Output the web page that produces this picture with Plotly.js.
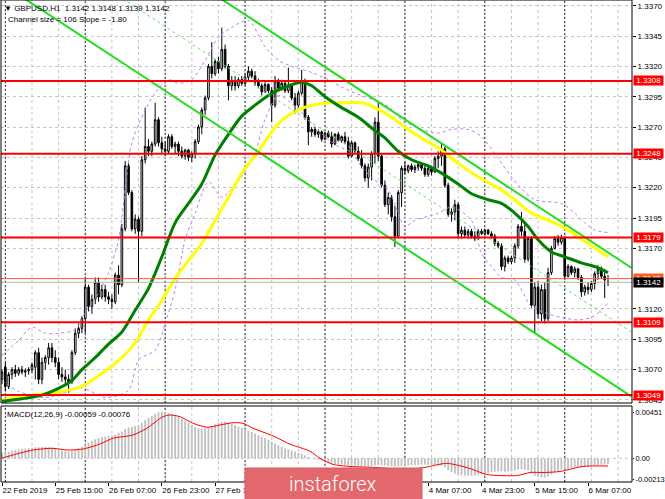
<!DOCTYPE html>
<html><head><meta charset="utf-8">
<script src="https://cdn.plot.ly/plotly-3.0.1.min.js"></script>
<style>html,body{margin:0;padding:0;background:#fff;overflow:hidden}#chart{width:665px;height:499px}</style>
</head><body><div id="chart"></div>
<script>
// ---------- DATA ----------
const headerText = "\u25BC GBPUSD,H1  1.3142 1.3148 1.3139 1.3142";
const channelText = "Channel size = 106 Slope = -1.80";
const macdText = "MACD(12,26,9) -0.00059 -0.00076";
const logoText = "instaforex";

const open = [1.3062,1.3072,1.3056,1.3066,1.3070,1.3067,1.3070,1.3068,1.3069,1.3070,
1.3072,1.3084,1.3062,1.3076,1.3080,1.3088,1.3080,1.3076,1.3066,1.3064,
1.3062,1.3060,1.3084,1.3100,1.3104,1.3112,1.3138,1.3122,1.3128,1.3142,
1.3130,1.3136,1.3130,1.3128,1.3126,1.3148,1.3140,1.3186,1.3238,1.3216,
1.3186,1.3194,1.3184,1.3243,1.3254,1.3250,1.3256,1.3276,1.3257,1.3252,
1.3250,1.3262,1.3254,1.3256,1.3250,1.3246,1.3251,1.3245,1.3248,1.3258,
1.3270,1.3284,1.3294,1.3320,1.3314,1.3324,1.3318,1.3334,1.3320,1.3304,
1.3308,1.3304,1.3309,1.3306,1.3311,1.3316,1.3312,1.3307,1.3304,1.3299,
1.3305,1.3300,1.3288,1.3308,1.3302,1.3306,1.3300,1.3304,1.3294,1.3288,
1.3298,1.3308,1.3278,1.3266,1.3268,1.3264,1.3266,1.3260,1.3265,1.3262,
1.3256,1.3264,1.3259,1.3262,1.3258,1.3246,1.3257,1.3250,1.3244,1.3238,
1.3228,1.3237,1.3248,1.3274,1.3246,1.3222,1.3206,1.3212,1.3196,1.3180,
1.3216,1.3236,1.3234,1.3238,1.3235,1.3237,1.3239,1.3236,1.3231,1.3236,
1.3233,1.3244,1.3246,1.3252,1.3222,1.3198,1.3200,1.3206,1.3182,1.3185,
1.3181,1.3184,1.3180,1.3178,1.3184,1.3182,1.3185,1.3182,1.3180,1.3174,
1.3172,1.3155,1.3162,1.3159,1.3162,1.3172,1.3188,1.3184,1.3161,1.3178,
1.3123,1.3138,1.3116,1.3136,1.3112,1.3150,1.3170,1.3178,1.3175,1.3179,
1.3147,1.3155,1.3150,1.3153,1.3146,1.3134,1.3138,1.3136,1.3141,1.3149,
1.3153,1.3147,1.3142];
const high = [1.3070,1.3076,1.3068,1.3072,1.3074,1.3072,1.3073,1.3071,1.3072,1.3076,
1.3086,1.3088,1.3080,1.3082,1.3092,1.3092,1.3086,1.3080,1.3072,1.3070,
1.3066,1.3086,1.3104,1.3108,1.3114,1.3146,1.3140,1.3132,1.3146,1.3146,
1.3140,1.3140,1.3134,1.3132,1.3150,1.3156,1.3190,1.3242,1.3240,1.3218,
1.3198,1.3196,1.3246,1.3286,1.3260,1.3258,1.3290,1.3278,1.3262,1.3258,
1.3264,1.3264,1.3258,1.3258,1.3254,1.3252,1.3252,1.3250,1.3260,1.3272,
1.3286,1.3296,1.3322,1.3340,1.3326,1.3328,1.3352,1.3338,1.3322,1.3312,
1.3312,1.3311,1.3312,1.3314,1.3320,1.3318,1.3316,1.3310,1.3306,1.3307,
1.3306,1.3303,1.3312,1.3310,1.3309,1.3308,1.3319,1.3305,1.3298,1.3300,
1.3317,1.3310,1.3280,1.3270,1.3270,1.3268,1.3267,1.3266,1.3267,1.3266,
1.3265,1.3266,1.3263,1.3266,1.3262,1.3259,1.3258,1.3254,1.3251,1.3240,
1.3240,1.3250,1.3278,1.3290,1.3248,1.3226,1.3216,1.3214,1.3205,1.3218,
1.3238,1.3241,1.3239,1.3240,1.3239,1.3241,1.3241,1.3240,1.3238,1.3238,
1.3246,1.3250,1.3257,1.3254,1.3224,1.3203,1.3210,1.3208,1.3188,1.3188,
1.3186,1.3186,1.3184,1.3186,1.3186,1.3186,1.3186,1.3184,1.3182,1.3176,
1.3174,1.3164,1.3164,1.3164,1.3174,1.3190,1.3200,1.3190,1.3180,1.3180,
1.3142,1.3143,1.3140,1.3142,1.3154,1.3172,1.3180,1.3181,1.3181,1.3180,
1.3157,1.3156,1.3155,1.3154,1.3148,1.3140,1.3142,1.3143,1.3151,1.3156,
1.3155,1.3153,1.3148];
const low = [1.3058,1.3052,1.3054,1.3062,1.3064,1.3065,1.3066,1.3064,1.3066,1.3067,
1.3062,1.3058,1.3058,1.3070,1.3074,1.3076,1.3072,1.3062,1.3060,1.3058,
1.3051,1.3058,1.3082,1.3096,1.3100,1.3100,1.3118,1.3116,1.3124,1.3126,
1.3128,1.3126,1.3124,1.3120,1.3124,1.3132,1.3138,1.3184,1.3214,1.3184,
1.3182,1.3142,1.3180,1.3240,1.3246,1.3246,1.3254,1.3254,1.3248,1.3246,
1.3248,1.3252,1.3248,1.3246,1.3244,1.3243,1.3242,1.3241,1.3244,1.3256,
1.3264,1.3280,1.3292,1.3310,1.3312,1.3314,1.3316,1.3318,1.3292,1.3300,
1.3300,1.3302,1.3304,1.3304,1.3308,1.3310,1.3304,1.3302,1.3296,1.3298,
1.3298,1.3274,1.3286,1.3300,1.3300,1.3298,1.3298,1.3292,1.3281,1.3286,
1.3296,1.3276,1.3255,1.3262,1.3262,1.3261,1.3258,1.3259,1.3261,1.3253,
1.3255,1.3258,1.3257,1.3256,1.3244,1.3245,1.3248,1.3242,1.3236,1.3225,
1.3220,1.3226,1.3240,1.3242,1.3220,1.3204,1.3198,1.3192,1.3171,1.3178,
1.3204,1.3231,1.3232,1.3233,1.3232,1.3234,1.3234,1.3229,1.3229,1.3230,
1.3232,1.3236,1.3238,1.3220,1.3196,1.3192,1.3193,1.3178,1.3178,1.3179,
1.3178,1.3178,1.3176,1.3177,1.3181,1.3180,1.3181,1.3178,1.3172,1.3170,
1.3152,1.3151,1.3157,1.3157,1.3158,1.3170,1.3180,1.3158,1.3159,1.3121,
1.3100,1.3112,1.3110,1.3108,1.3110,1.3148,1.3169,1.3172,1.3173,1.3144,
1.3146,1.3148,1.3146,1.3144,1.3130,1.3131,1.3132,1.3134,1.3136,1.3144,
1.3145,1.3129,1.3139];
const close = [1.3068,1.3056,1.3066,1.3070,1.3067,1.3070,1.3068,1.3069,1.3070,1.3074,
1.3084,1.3062,1.3076,1.3080,1.3088,1.3080,1.3076,1.3066,1.3064,1.3062,
1.3060,1.3084,1.3100,1.3104,1.3112,1.3138,1.3122,1.3128,1.3142,1.3130,
1.3136,1.3130,1.3128,1.3126,1.3148,1.3140,1.3186,1.3238,1.3216,1.3186,
1.3194,1.3184,1.3243,1.3254,1.3250,1.3256,1.3276,1.3257,1.3252,1.3250,
1.3262,1.3254,1.3256,1.3250,1.3246,1.3251,1.3245,1.3248,1.3258,1.3270,
1.3284,1.3294,1.3320,1.3314,1.3324,1.3318,1.3334,1.3320,1.3304,1.3308,
1.3304,1.3309,1.3306,1.3311,1.3316,1.3312,1.3307,1.3304,1.3299,1.3305,
1.3300,1.3288,1.3308,1.3302,1.3306,1.3300,1.3304,1.3294,1.3288,1.3298,
1.3308,1.3278,1.3266,1.3268,1.3264,1.3266,1.3260,1.3265,1.3262,1.3256,
1.3264,1.3259,1.3262,1.3258,1.3246,1.3257,1.3250,1.3244,1.3238,1.3228,
1.3237,1.3248,1.3274,1.3246,1.3222,1.3206,1.3212,1.3196,1.3180,1.3216,
1.3236,1.3234,1.3238,1.3235,1.3237,1.3239,1.3236,1.3231,1.3236,1.3233,
1.3244,1.3246,1.3252,1.3222,1.3198,1.3200,1.3206,1.3182,1.3185,1.3181,
1.3184,1.3180,1.3178,1.3184,1.3182,1.3185,1.3182,1.3180,1.3174,1.3172,
1.3155,1.3162,1.3159,1.3162,1.3172,1.3188,1.3184,1.3161,1.3178,1.3123,
1.3138,1.3116,1.3136,1.3112,1.3150,1.3170,1.3178,1.3175,1.3179,1.3147,
1.3155,1.3150,1.3153,1.3146,1.3134,1.3138,1.3136,1.3141,1.3149,1.3153,
1.3147,1.3144,1.3142];

// moving averages (sampled at bars)
const maGreenBars = [0,6,12,18,21,24,28,32,36,40,44,48,52,56,60,64,68,72,76,80,85,90,93,97,102,107,112,115,119,123,128,132,137,141,146,150,154,158,161,165,169,174,178,182];
const maGreen = [1.3044,1.3046,1.3049,1.3056,1.3061,1.3070,1.3080,1.3091,1.3101,1.3119,1.3137,1.3163,1.3191,1.3207,1.3223,1.3247,1.3264,1.3279,1.3288,1.3296,1.3303,1.3307,1.3304,1.3295,1.3286,1.3278,1.3267,1.3261,1.3250,1.3243,1.3238,1.3232,1.3223,1.3215,1.3210,1.3207,1.3199,1.3188,1.3177,1.3167,1.3163,1.3158,1.3155,1.3150];
const maYellowBars = [0,9,18,24,28,34,40,44,48,52,56,60,64,68,72,77,83,89,93,99,103,108,112,117,122,126,132,137,143,150,154,159,166,170,176,182];
const maYellow = [1.3045,1.3049,1.3052,1.3056,1.3063,1.3075,1.3092,1.3111,1.3127,1.3145,1.3160,1.3174,1.3193,1.3212,1.3232,1.3250,1.3273,1.3284,1.3288,1.3290,1.3290,1.3290,1.3286,1.3278,1.3268,1.3261,1.3251,1.3240,1.3229,1.3218,1.3210,1.3199,1.3191,1.3185,1.3174,1.3163];
const bandUpperBars = [0,5,9,13,17,22,25,29,32,35,39,43,46,50,53,57,61,65,69,74,79,83,87,93,98,102,106,112,116,120,126,131,135,140,144,149,155,160,168,172,175,178,182];
const bandUpper = [1.3082,1.3094,1.3105,1.3100,1.3100,1.3103,1.3117,1.3133,1.3150,1.3177,1.3257,1.3284,1.3298,1.3309,1.3306,1.3309,1.3325,1.3344,1.3352,1.3358,1.3336,1.3325,1.3320,1.3315,1.3309,1.3303,1.3298,1.3292,1.3287,1.3276,1.3268,1.3265,1.3268,1.3268,1.3262,1.3244,1.3222,1.3210,1.3207,1.3199,1.3191,1.3185,1.3183];
const bandLowerBars = [0,5,13,20,24,31,38,41,46,49,52,55,58,62,66,68,72,76,79,83,88,93,97,101,105,108,112,116,119,121,124,131,135,141,144,147,150,154,159,163,168,173,177,180,182];
const bandLower = [1.3061,1.3052,1.3047,1.3052,1.3055,1.3047,1.3053,1.3078,1.3086,1.3108,1.3136,1.3177,1.3199,1.3225,1.3212,1.3216,1.3229,1.3249,1.3276,1.3296,1.3287,1.3273,1.3262,1.3254,1.3249,1.3237,1.3226,1.3218,1.3199,1.3188,1.3193,1.3199,1.3204,1.3193,1.3166,1.3155,1.3146,1.3144,1.3122,1.3117,1.3113,1.3111,1.3113,1.3119,1.3125];

// regression channel (start / end bar)
const channelBars = [0, 189];
const channelUpper = [1.3494, 1.3154];
const channelMid = [1.3441, 1.3101];
const channelLower = [1.3388, 1.3048];

// horizontal levels
const levels = [1.3308, 1.3248, 1.3179, 1.3109, 1.3049];
const bidPrice = 1.3142;
const askPrice = 1.3145;

// MACD
const macdHist = [0.00058,0.00060,0.00065,0.00075,0.00082,0.00088,0.00092,0.00096,0.00100,0.00104,
0.00108,0.00110,0.00112,0.00112,0.00110,0.00106,0.00098,0.00088,0.00078,0.00070,
0.00068,0.00078,0.00090,0.00102,0.00114,0.00135,0.00155,0.00172,0.00188,0.00200,
0.00210,0.00215,0.00220,0.00225,0.00235,0.00250,0.00265,0.00290,0.00305,0.00312,
0.00320,0.00328,0.00350,0.00378,0.00400,0.00420,0.00440,0.00455,0.00460,0.00455,
0.00448,0.00438,0.00425,0.00410,0.00392,0.00372,0.00352,0.00330,0.00310,0.00298,
0.00292,0.00295,0.00305,0.00320,0.00335,0.00350,0.00360,0.00362,0.00352,0.00340,
0.00328,0.00315,0.00300,0.00285,0.00272,0.00260,0.00245,0.00230,0.00215,0.00200,
0.00185,0.00165,0.00150,0.00130,0.00115,0.00100,0.00090,0.00078,0.00065,0.00055,
0.00045,0.00030,0.00015,0.00002,-0.00008,-0.00018,-0.00025,-0.00032,-0.00040,-0.00048,
-0.00055,-0.00060,-0.00063,-0.00066,-0.00070,-0.00072,-0.00074,-0.00076,-0.00078,-0.00080,
-0.00080,-0.00078,-0.00070,-0.00065,-0.00068,-0.00072,-0.00075,-0.00078,-0.00082,-0.00080,
-0.00075,-0.00072,-0.00070,-0.00068,-0.00066,-0.00064,-0.00062,-0.00062,-0.00064,-0.00066,
-0.00068,-0.00070,-0.00072,-0.00090,-0.00115,-0.00138,-0.00152,-0.00162,-0.00168,-0.00170,
-0.00172,-0.00172,-0.00170,-0.00166,-0.00160,-0.00152,-0.00145,-0.00138,-0.00132,-0.00128,
-0.00130,-0.00132,-0.00130,-0.00128,-0.00122,-0.00112,-0.00108,-0.00115,-0.00118,-0.00145,
-0.00172,-0.00185,-0.00190,-0.00192,-0.00180,-0.00160,-0.00140,-0.00122,-0.00110,-0.00110,
-0.00105,-0.00098,-0.00092,-0.00088,-0.00088,-0.00085,-0.00080,-0.00075,-0.00070,-0.00065,
-0.00062,-0.00060,-0.00059];
const signalBars = [0,1.5,9.3,15.3,19.5,24.3,29.4,33.3,39.3,43.5,48.3,50.5,53.5,57.4,61.6,65.5,69.4,72.4,75.4,81.5,86.5,92.5,95.5,99.4,104.5,112,122,127,133.6,140.5,145.6,154.7,158.6,163,167.6,174.5,182];
const signalVals = [0.0000,0.00016,0.00082,0.00099,0.00082,0.00092,0.00141,0.00198,0.0023,0.00297,0.00411,0.00428,0.00411,0.00346,0.00307,0.0033,0.00352,0.00346,0.00297,0.0022,0.0014,0.0007,0.0000,-0.0006,-0.0008,-0.0009,-0.0011,-0.0009,-0.0005,-0.0010,-0.0016,-0.0017,-0.0014,-0.0014,-0.0013,-0.0008,-0.00076];

// axes
const dateTickBars = [0,16,32,48,64,80,96,112,128,144,160,176];
const dateTickText = ["22 Feb 2019","25 Feb 15:00","26 Feb 07:00","26 Feb 23:00","27 Feb 15:00","28 Feb 07:00","28 Feb 23:00","1 Mar 15:00","4 Mar 07:00","4 Mar 23:00","5 Mar 15:00","6 Mar 07:00"];
const priceTicks = [1.3045,1.3070,1.3095,1.3120,1.3145,1.3170,1.3195,1.3220,1.3245,1.3270,1.3295,1.3320,1.3345,1.3370];
const macdTicks = [0.00451, 0, -0.00213];
const macdTickText = ["0.00451","0.00","-0.00213"];
const daySeparatorBars = [1,25,49,73,97,121,145,169];
const gridStartBar = 1, gridStepBars = 8;

// ---------- CHART ----------
const barIndex = close.map((_, i) => i);
const FONT = "Liberation Sans, Arial, sans-serif";

const traces = [
  {type:'candlestick', x:barIndex, open:open, high:high, low:low, close:close, xaxis:'x', yaxis:'y',
   increasing:{line:{color:'#000000', width:1}, fillcolor:'#ffffff'},
   decreasing:{line:{color:'#000000', width:1}, fillcolor:'#000000'},
   whiskerwidth:0, hoverinfo:'skip', showlegend:false},
  {type:'scatter', mode:'lines', x:bandUpperBars, y:bandUpper, yaxis:'y', line:{color:'#c07cf2', width:1, dash:'dot', shape:'spline', smoothing:0.8}, hoverinfo:'skip', showlegend:false},
  {type:'scatter', mode:'lines', x:bandLowerBars, y:bandLower, yaxis:'y', line:{color:'#c07cf2', width:1, dash:'dot', shape:'spline', smoothing:0.8}, hoverinfo:'skip', showlegend:false},
  {type:'scatter', mode:'lines', x:maYellowBars, y:maYellow, yaxis:'y', line:{color:'#ffff00', width:3, shape:'spline', smoothing:0.8}, hoverinfo:'skip', showlegend:false},
  {type:'scatter', mode:'lines', x:maGreenBars, y:maGreen, yaxis:'y', line:{color:'#008000', width:3, shape:'spline', smoothing:0.8}, hoverinfo:'skip', showlegend:false},
  {type:'scatter', mode:'lines', x:channelBars, y:channelMid, yaxis:'y', line:{color:'#66e266', width:1, dash:'3px,3px'}, hoverinfo:'skip', showlegend:false},
  {type:'scatter', mode:'lines', x:channelBars, y:channelUpper, yaxis:'y', line:{color:'#22dd22', width:2}, hoverinfo:'skip', showlegend:false},
  {type:'scatter', mode:'lines', x:channelBars, y:channelLower, yaxis:'y', line:{color:'#22dd22', width:2}, hoverinfo:'skip', showlegend:false},
  {type:'bar', x:barIndex, y:macdHist, xaxis:'x', yaxis:'y2', width:0.55, marker:{color:'#c0c0c0', line:{width:0}}, hoverinfo:'skip', showlegend:false},
  {type:'scatter', mode:'lines', x:signalBars, y:signalVals, xaxis:'x', yaxis:'y2', line:{color:'#ff0000', width:1, shape:'spline', smoothing:0.7}, hoverinfo:'skip', showlegend:false}
];

const shapes = [];
// vertical grid
for (let b = gridStartBar; b < 190; b += gridStepBars) {
  ['y domain','y2 domain'].forEach(r => shapes.push({type:'line', xref:'x', yref:r, x0:b, x1:b, y0:0, y1:1, layer:'below', line:{color:'#c4c4c4', width:1, dash:'3px,3px'}}));
}
// day separators
daySeparatorBars.forEach(b => {
  ['y domain','y2 domain'].forEach(r => shapes.push({type:'line', xref:'x', yref:r, x0:b, x1:b, y0:0, y1:1, layer:'below', line:{color:'#303030', width:1, dash:'2px,2px'}}));
});
// MACD zero level
shapes.push({type:'line', xref:'paper', yref:'y2', x0:0, x1:1, y0:0, y1:0, layer:'below', line:{color:'#c4c4c4', width:1, dash:'3px,3px'}});
// bid / ask lines
shapes.push({type:'line', xref:'paper', yref:'y', x0:0, x1:1, y0:bidPrice, y1:bidPrice, layer:'above', line:{color:'#b4b4b4', width:1}});
shapes.push({type:'line', xref:'paper', yref:'y', x0:0, x1:1, y0:askPrice, y1:askPrice, layer:'above', line:{color:'#ff5a28', width:1}});
// levels
levels.forEach(v => shapes.push({type:'line', xref:'paper', yref:'y', x0:0, x1:1, y0:v, y1:v, layer:'above', line:{color:'#ff0000', width:2}}));
// frames
shapes.push({type:'rect', xref:'paper', yref:'y domain', x0:0, x1:1, y0:0, y1:1, layer:'above', line:{color:'#000000', width:1}});
shapes.push({type:'rect', xref:'paper', yref:'y2 domain', x0:0, x1:1, y0:0, y1:1, layer:'above', line:{color:'#000000', width:1}});
// logo box
shapes.push({type:'rect', xref:'paper', yref:'paper', x0:0.3867, x1:0.6672, y0:0.029, y1:-0.040, layer:'above', fillcolor:'#e2686d', line:{color:'#d85e63', width:1}});

const annotations = [
  {xref:'paper', yref:'paper', x:0.002, y:0.9824, xanchor:'left', yanchor:'middle', text:headerText, showarrow:false, font:{family:FONT, size:8, color:'#000'}},
  {xref:'paper', yref:'paper', x:0.008, y:0.9595, xanchor:'left', yanchor:'middle', text:channelText, showarrow:false, font:{family:FONT, size:8, color:'#000'}},
  {xref:'paper', yref:'paper', x:0.006, y:0.141, xanchor:'left', yanchor:'middle', text:macdText, showarrow:false, font:{family:FONT, size:8, color:'#000'}},
  {xref:'paper', yref:'paper', x:0.526, y:-0.004, xanchor:'center', yanchor:'middle', text:logoText, showarrow:false, font:{family:'Roboto, Open Sans, sans-serif', size:20, color:'#ffffff', weight:300}}
];
levels.forEach(v => annotations.push({xref:'paper', yref:'y', x:1, xshift:1, y:v, xanchor:'left', yanchor:'middle', text:' '+v.toFixed(4)+' ', showarrow:false, bgcolor:'#ff0000', borderpad:0, font:{family:FONT, size:8, color:'#ffffff'}}));
annotations.push({xref:'paper', yref:'y', x:1, xshift:1, y:askPrice, xanchor:'left', yanchor:'middle', text:' '+askPrice.toFixed(4)+' ', showarrow:false, bgcolor:'#ff5a28', borderpad:0, font:{family:FONT, size:8, color:'#ffffff'}});
annotations.push({xref:'paper', yref:'y', x:1, xshift:1, y:bidPrice, xanchor:'left', yanchor:'middle', text:' '+bidPrice.toFixed(4)+' ', showarrow:false, bgcolor:'#000000', borderpad:0, font:{family:FONT, size:8, color:'#ffffff'}});

const layout = {
  width:665, height:499,
  margin:{l:1, r:33, t:0, b:17, pad:0},
  paper_bgcolor:'#ffffff', plot_bgcolor:'#ffffff',
  showlegend:false,
  font:{family:FONT, size:8, color:'#000'},
  xaxis:{range:[-0.3, 189.2], anchor:'y2', tickmode:'array', tickvals:dateTickBars, ticktext:dateTickText,
         ticks:'outside', ticklen:3, tickcolor:'#000', tickangle:0, ticklabelposition:'outside right',
         tickfont:{family:FONT, size:8, color:'#000'}, showgrid:false, zeroline:false, showline:false,
         rangeslider:{visible:false}, fixedrange:true, automargin:false},
  yaxis:{domain:[0.1639, 1], range:[1.30425, 1.33747], side:'right', anchor:'x',
         tickmode:'array', tickvals:priceTicks, ticktext:priceTicks.map(v => v.toFixed(4)),
         ticks:'outside', ticklen:3, tickcolor:'#000', tickfont:{family:FONT, size:8, color:'#000'},
         showgrid:true, gridcolor:'#c4c4c4', griddash:'3px,3px', gridwidth:1, zeroline:false, showline:false, fixedrange:true, automargin:false},
  yaxis2:{domain:[0, 0.1577], range:[-0.00234, 0.00517], side:'right', anchor:'x',
         tickmode:'array', tickvals:macdTicks, ticktext:macdTickText,
         ticks:'outside', ticklen:1, tickcolor:'#000', tickfont:{family:FONT, size:7.4, color:'#000'},
         showgrid:false, zeroline:false, showline:false, fixedrange:true, automargin:false},
  shapes:shapes, annotations:annotations
};

Plotly.newPlot('chart', traces, layout, {staticPlot:true, displayModeBar:false});
</script>
</body></html>
